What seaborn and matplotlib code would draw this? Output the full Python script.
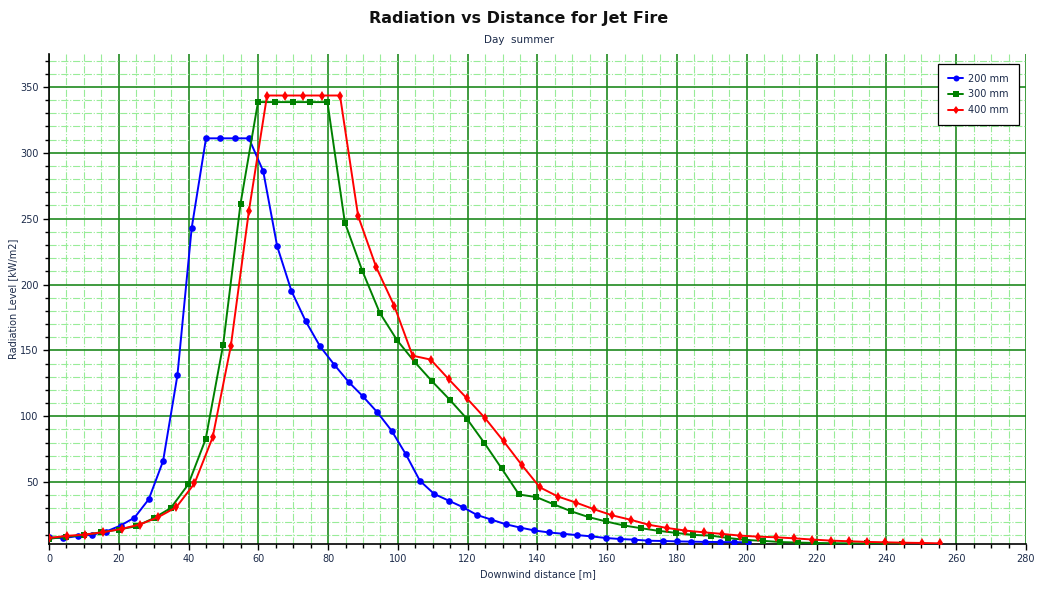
import numpy as np
import pandas as pd
import matplotlib
matplotlib.use('Agg')
import matplotlib.pyplot as plt
import seaborn as sns
from matplotlib.ticker import MultipleLocator

# Distances [m] for each pipe size
x_200 = [0.0, 4.1, 8.2, 12.3, 16.4, 20.5, 24.5, 28.6, 32.7, 36.8,
         40.9, 45.0, 49.1, 53.2, 57.3, 61.4, 65.4, 69.5, 73.6, 77.7,
         81.8, 85.9, 90.0, 94.1, 98.2, 102.3, 106.3, 110.4, 114.5, 118.6,
         122.7, 126.8, 130.9, 135.0, 139.1, 143.2, 147.2, 151.3, 155.4, 159.5,
         163.6, 167.7, 171.8, 175.9, 180.0, 184.1, 188.1, 192.2, 196.3, 200.4]
y_200 = [8.0, 7.5, 9.0, 10.0, 12.5, 17.0, 23.0, 37.0, 66.0, 131.0,
         243.0, 311.0, 311.0, 311.0, 311.0, 286.0, 229.0, 195.0, 172.0, 153.0,
         139.0, 126.0, 115.0, 103.0, 89.0, 71.0, 51.0, 41.0, 36.0, 31.0,
         25.0, 21.5, 18.0, 15.5, 13.3, 11.8, 10.8, 9.8, 8.8, 7.6,
         6.8, 6.3, 5.5, 5.3, 5.0, 4.8, 4.6, 4.5, 4.4, 4.3]

x_300 = [0.0, 5.0, 10.0, 15.0, 20.0, 25.0, 30.0, 34.9, 39.9, 44.9,
         49.9, 54.9, 59.9, 64.9, 69.9, 74.9, 79.8, 84.8, 89.8, 94.8,
         99.8, 104.8, 109.8, 114.8, 119.8, 124.8, 129.7, 134.7, 139.7, 144.7,
         149.7, 154.7, 159.7, 164.7, 169.7, 174.7, 179.6, 184.6, 189.6, 194.6,
         199.6, 204.6, 209.6, 214.6, 219.6, 224.6, 229.5, 234.5, 239.5, 244.5]
y_300 = [7.0, 8.5, 9.9, 11.9, 14.0, 16.5, 22.6, 30.3, 48.2, 82.6,
         154.0, 261.5, 338.5, 338.5, 338.5, 338.5, 338.5, 247.0, 210.4, 178.5,
         157.6, 141.2, 126.5, 112.7, 98.0, 79.6, 60.5, 40.6, 38.6, 33.1,
         27.8, 23.4, 20.1, 17.1, 15.0, 13.0, 11.5, 9.9, 9.4, 7.6,
         6.1, 5.4, 4.5, 4.1, 3.8, 3.6, 3.5, 3.4, 3.3, 3.2]

x_400 = [0.0, 5.2, 10.4, 15.6, 20.8, 26.0, 31.3, 36.5, 41.7, 46.9,
         52.1, 57.3, 62.5, 67.7, 72.9, 78.2, 83.4, 88.6, 93.8, 99.0,
         104.2, 109.4, 114.6, 119.8, 125.0, 130.3, 135.5, 140.7, 145.9, 151.1,
         156.3, 161.5, 166.7, 171.9, 177.1, 182.4, 187.6, 192.8, 198.0, 203.2,
         208.4, 213.6, 218.8, 224.0, 229.2, 234.5, 239.7, 244.9, 250.1, 255.3]
y_400 = [7.6, 9.2, 10.2, 12.0, 14.5, 17.8, 23.4, 31.0, 49.0, 84.0,
         153.0, 256.0, 343.5, 343.5, 343.5, 343.5, 343.5, 252.0, 213.0, 183.5,
         146.0, 143.0, 128.0, 113.5, 98.5, 81.0, 63.0, 46.0, 39.0, 34.4,
         29.3, 24.7, 21.4, 17.6, 15.2, 13.2, 11.9, 10.7, 9.4, 8.6,
         8.1, 7.3, 6.4, 5.6, 5.1, 4.6, 4.3, 4.0, 3.8, 3.5]

series_names = ['200 mm', '300 mm', '400 mm']

df = pd.concat([
    pd.DataFrame({'dist': x_200, 'rad': y_200, 'size': series_names[0]}),
    pd.DataFrame({'dist': x_300, 'rad': y_300, 'size': series_names[1]}),
    pd.DataFrame({'dist': x_400, 'rad': y_400, 'size': series_names[2]}),
], ignore_index=True)

sns.set_style('white')
plt.rcParams['font.family'] = ['DejaVu Sans']

fig = plt.figure(figsize=(10.38, 5.91), dpi=100)
ax = fig.add_axes([0.0472, 0.0795, 0.9412, 0.8291])

palette = {'200 mm': '#0000ff', '300 mm': '#008000', '400 mm': '#ff0000'}
markers = {'200 mm': 'o', '300 mm': 's', '400 mm': 'd'}
sns.lineplot(data=df, x='dist', y='rad', hue='size', style='size',
             palette=palette, markers=markers, dashes=False, sort=False,
             estimator=None, linewidth=1.4, markersize=4.8,
             markeredgewidth=0, ax=ax, zorder=3)

ax.set_xlim(0, 280)
ax.set_ylim(3, 375)
ax.xaxis.set_major_locator(MultipleLocator(20))
ax.xaxis.set_minor_locator(MultipleLocator(5))
ax.yaxis.set_major_locator(MultipleLocator(50))
ax.yaxis.set_minor_locator(MultipleLocator(10))

ax.grid(which='minor', color='#98ec98', linestyle='-.', linewidth=0.8, zorder=0)
ax.grid(which='major', color='#1f8a1f', linestyle='-', linewidth=1.2, zorder=1)
ax.set_axisbelow(True)

for s in ['top', 'right']:
    ax.spines[s].set_visible(False)
for s in ['left', 'bottom']:
    ax.spines[s].set_color('black')
    ax.spines[s].set_linewidth(1.2)

tick_color = '#1c2b4a'
ax.tick_params(which='both', direction='out', colors='black', labelcolor=tick_color,
               labelsize=7)
ax.tick_params(which='major', length=4, width=1)
ax.tick_params(which='minor', length=3, width=1)
ax.tick_params(axis='y', which='both', left=True)
ax.tick_params(axis='x', which='both', bottom=True)

ax.set_xlabel('Downwind distance [m]', fontsize=7, color=tick_color, labelpad=3)
ax.set_ylabel('Radiation Level [kW/m2]', fontsize=7, color=tick_color, labelpad=1)

fig.text(0.5, 0.968, 'Radiation vs Distance for Jet Fire', ha='center', va='center',
         fontsize=11.5, fontweight='bold', color='#111111')
fig.text(0.5, 0.932, 'Day  summer', ha='center', va='center', fontsize=7.5,
         color='#1c2b4a')

leg = ax.legend(loc='upper right', bbox_to_anchor=(0.9975, 0.99), fontsize=7,
                frameon=True, fancybox=False, edgecolor='black', framealpha=1,
                handlelength=1.6, handletextpad=0.5, borderpad=1.0,
                labelspacing=0.6, title=None, markerscale=0.9)
leg.get_frame().set_linewidth(0.9)
for t in leg.get_texts():
    t.set_color(tick_color)

fig.savefig('out.png', dpi=100)
